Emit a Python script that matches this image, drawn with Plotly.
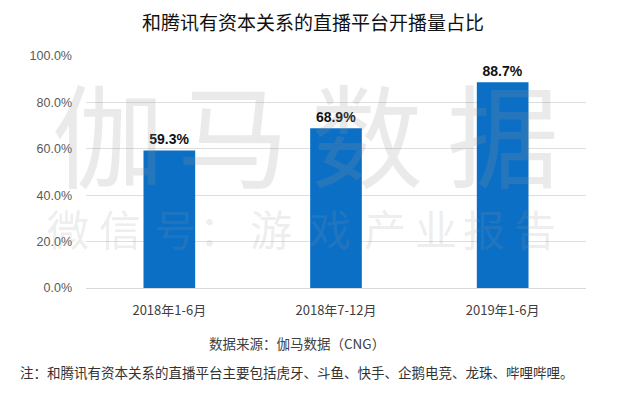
import plotly.graph_objects as go

categories = ["2018年1-6月", "2018年7-12月", "2019年1-6月"]
values = [59.3, 68.9, 88.7]
tick_vals = [0, 20, 40, 60, 80, 100]
tick_text = ["0.0%", "20.0%", "40.0%", "60.0%", "80.0%", "100.0%"]

title = "和腾讯有资本关系的直播平台开播量占比"
source = "数据来源：伽马数据（CNG）"
note = "注：和腾讯有资本关系的直播平台主要包括虎牙、斗鱼、快手、企鹅电竞、龙珠、哔哩哔哩。"
wm1_chars = ["伽", "马", "数", "据"]
wm1_x = [0.044, 0.294, 0.562, 0.834]
wm2_chars = ["微", "信", "号", "：", "游", "戏", "产", "业", "报", "告"]
wm2_x = [-0.036, 0.068, 0.178, 0.268, 0.37, 0.488, 0.598, 0.70, 0.796, 0.898]

FONT = "Noto Sans CJK SC"

fig = go.Figure(go.Bar(
    x=categories, y=values,
    marker=dict(color="#0b6fc6", line=dict(width=0)),
    text=[f"{v:.1f}%" for v in values],
    textposition="outside",
    textfont=dict(family="Liberation Sans", size=14, color="#111111", weight="bold"),
    cliponaxis=False,
))

annotations = [
    dict(text=source, xref="paper", yref="paper", x=0.422, y=-0.238,
         xanchor="center", yanchor="middle", showarrow=False,
         font=dict(family=FONT, size=13.5, color="#404040")),
    dict(text=note, xref="paper", yref="paper", x=-0.136, y=-0.362,
         xanchor="left", yanchor="middle", showarrow=False,
         font=dict(family=FONT, size=13.5, color="#333333")),
]
for ch, xx in zip(wm1_chars, wm1_x):
    annotations.append(dict(text=ch, xref="paper", yref="paper", x=xx, y=0.675,
                            xanchor="center", yanchor="middle", showarrow=False,
                            font=dict(family=FONT, size=112, color="rgba(150,150,150,0.2)")))
for ch, xx in zip(wm2_chars, wm2_x):
    annotations.append(dict(text=ch, xref="paper", yref="paper", x=xx, y=0.259,
                            xanchor="center", yanchor="middle", showarrow=False,
                            font=dict(family=FONT, size=42, color="rgba(150,150,150,0.18)")))

fig.update_layout(
    width=630, height=399,
    margin=dict(l=86, r=44, t=56, b=111),
    paper_bgcolor="white", plot_bgcolor="white",
    bargap=0.69,
    showlegend=False,
    font=dict(family=FONT, color="#404040"),
    title=dict(text=title, x=0.497, xanchor="center", y=0.942, yanchor="middle",
               font=dict(family=FONT, size=19, color="#111111")),
    xaxis=dict(showgrid=False, showline=True, linecolor="#d9d9d9", linewidth=1,
               ticks="", automargin=False, ticklabelstandoff=10,
               tickfont=dict(family=FONT, size=13, color="#404040")),
    yaxis=dict(range=[0, 100], tickvals=tick_vals, ticktext=tick_text,
               showgrid=True, gridcolor="#dedede", gridwidth=1, zeroline=False,
               showline=False, ticks="", ticklabelstandoff=13, automargin=False,
               tickfont=dict(family="Liberation Sans", size=12.5, color="#595959")),
    annotations=annotations,
)

fig.write_html("out.html", config={"displayModeBar": False},
               post_script="document.body.style.margin='0';")
